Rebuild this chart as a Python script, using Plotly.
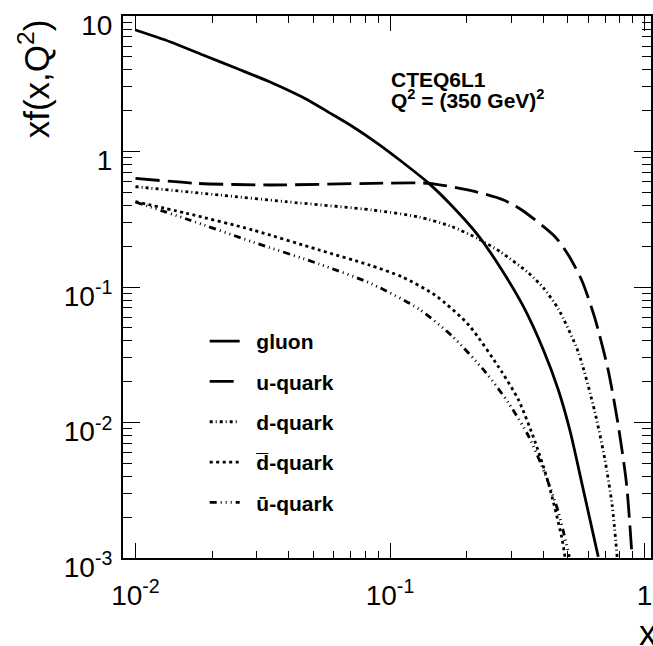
import plotly.graph_objects as go

# xf(x, Q^2) for CTEQ6L1 at Q = 350 GeV
gluon_x = [0.01, 0.01365, 0.01842, 0.0249, 0.0336, 0.0454, 0.0594, 0.0712, 0.0892, 0.1117,
           0.1421, 0.1753, 0.2230, 0.2751, 0.3345, 0.4006, 0.4585, 0.511, 0.5693, 0.658]
gluon_y = [7.88, 6.46, 5.154, 4.11, 3.274, 2.51, 1.875, 1.529, 1.149, 0.8366,
           0.582, 0.3962, 0.2378, 0.1335, 0.0716, 0.0343, 0.01738, 0.00851, 0.003457, 0.00102]

u_x = [0.01, 0.01736, 0.0336, 0.0852, 0.1421, 0.2165, 0.2794, 0.3295, 0.445, 0.502,
       0.566, 0.638, 0.7195, 0.788, 0.849, 0.8934]
u_y = [0.634, 0.582, 0.566, 0.582, 0.582, 0.505, 0.4385, 0.370, 0.235, 0.1722,
       0.1126, 0.0590, 0.0244, 0.00958, 0.00356, 0.00102]

d_x = [0.01, 0.0214, 0.0391, 0.0852, 0.1299, 0.1753, 0.2230, 0.272, 0.35, 0.4006,
       0.4585, 0.549, 0.638, 0.699, 0.746, 0.7806]
d_y = [0.5498, 0.4775, 0.426, 0.370, 0.3286, 0.2786, 0.2260, 0.1813, 0.1269, 0.0984,
       0.0688, 0.03314, 0.01196, 0.00529, 0.00246, 0.00102]

dbar_x = [0.01, 0.01586, 0.0289, 0.0527, 0.0828, 0.1117, 0.151, 0.2038, 0.2751, 0.3198,
          0.3718, 0.419, 0.4725, 0.487]
dbar_y = [0.426, 0.35, 0.2634, 0.1875, 0.1454, 0.1185, 0.0866, 0.0524, 0.02359, 0.01466,
          0.00718, 0.00358, 0.00143, 0.00102]

ubar_x = [0.01, 0.01586, 0.0289, 0.0527, 0.085, 0.1299, 0.1753, 0.2369, 0.2922, 0.35,
          0.4068, 0.4585, 0.5065]
ubar_y = [0.424, 0.3176, 0.2149, 0.1478, 0.1052, 0.0688, 0.0435, 0.02359, 0.01393, 0.00795,
          0.00417, 0.002185, 0.00102]

names = ["\u00a0\u00a0gluon", "\u00a0\u00a0u-quark", "\u00a0\u00a0d-quark",
         "\u00a0\u00a0d\u0305-quark", "\u00a0\u00a0\u016b-quark"]
dashes = ["solid", "24px,8px", "3px,3px,1px,3px", "3px,3.5px",
          "7px,4px,1px,4px,1px,4px,1px,4px"]

x_tickvals = [0.01, 0.1, 1]
x_ticktext = ["10<sup>-2</sup>", "10<sup>-1</sup>", "1"]
x_minor = [0.002, 0.003, 0.004, 0.005, 0.006, 0.007, 0.008, 0.009,
           0.02, 0.03, 0.04, 0.05, 0.06, 0.07, 0.08, 0.09,
           0.2, 0.3, 0.4, 0.5, 0.6, 0.7, 0.8, 0.9]
y_tickvals = [0.001, 0.01, 0.1, 1, 10]
y_ticktext = ["10<sup>-3</sup>", "10<sup>-2</sup>", "10<sup>-1</sup>", "1", "10"]
y_minor = [0.002, 0.003, 0.004, 0.005, 0.006, 0.007, 0.008, 0.009,
           0.02, 0.03, 0.04, 0.05, 0.06, 0.07, 0.08, 0.09,
           0.2, 0.3, 0.4, 0.5, 0.6, 0.7, 0.8, 0.9,
           2, 3, 4, 5, 6, 7, 8, 9]

FONT = "Liberation Sans, Arial, Helvetica, sans-serif"

series = [(gluon_x, gluon_y), (u_x, u_y), (d_x, d_y), (dbar_x, dbar_y), (ubar_x, ubar_y)]

fig = go.Figure()
for (xs, ys), name, dash in zip(series, names, dashes):
    fig.add_trace(go.Scatter(
        x=xs, y=ys, mode="lines", name=name, legendgroup=name,
        line=dict(color="black", width=2.8, dash=dash, shape="spline", smoothing=0.7),
        hoverinfo="skip",
    ))

W, H = 653, 646
L, R, T, B = 123, 0, 16, 88
pw, ph = W - L - R, H - T - B


def px(xp):
    return (xp - L) / pw


def py(yp):
    return (H - B - yp) / ph


axis_common = dict(
    type="log", showgrid=False, zeroline=False, showline=True, linewidth=2,
    linecolor="black", mirror="ticks", ticks="inside", tickwidth=1, tickcolor="black",
    tickmode="array", tickfont=dict(family=FONT, size=28, color="black"),
    ticklabeloverflow="allow",
)

fig.update_layout(
    width=W, height=H,
    margin=dict(l=L, r=R, t=T, b=B),
    plot_bgcolor="white", paper_bgcolor="white",
    showlegend=True,
    xaxis=dict(
        axis_common, range=[-2.049, 0.0254],
        tickvals=x_tickvals, ticktext=x_ticktext, ticklen=15,
        minor=dict(tickvals=x_minor, ticks="inside", ticklen=7, tickwidth=1,
                   tickcolor="black", showgrid=False),
        ticklabelstandoff=11,
    ),
    yaxis=dict(
        axis_common, range=[-3, 1],
        tickvals=y_tickvals, ticktext=y_ticktext, ticklen=17,
        minor=dict(tickvals=y_minor, ticks="inside", ticklen=9, tickwidth=1,
                   tickcolor="black", showgrid=False),
        ticklabelstandoff=3, ticklabelshift=9,
    ),
    legend=dict(
        x=px(205), y=py(321), xanchor="left", yanchor="top",
        bgcolor="rgba(0,0,0,0)", borderwidth=0, tracegroupgap=10,
        font=dict(family=FONT, size=21, color="black", weight="bold"),
    ),
    annotations=[
        dict(text="CTEQ6L1", x=px(390), y=py(79.3), xref="paper", yref="paper",
             xanchor="left", yanchor="middle", showarrow=False,
             font=dict(family=FONT, size=21, color="black", weight="bold")),
        dict(text="Q<sup>2</sup> = (350 GeV)<sup>2</sup>", x=px(390), y=py(99),
             xref="paper", yref="paper", xanchor="left", yanchor="middle",
             showarrow=False,
             font=dict(family=FONT, size=21, color="black", weight="bold")),
        dict(text="xf(x,Q<sup>2</sup>)", x=px(34), y=py(79), xref="paper", yref="paper",
             xanchor="center", yanchor="middle", textangle=-90, showarrow=False,
             font=dict(family=FONT, size=35, color="black")),
        dict(text="x", x=px(639), y=py(632), xref="paper", yref="paper",
             xanchor="left", yanchor="middle", showarrow=False,
             font=dict(family=FONT, size=35, color="black")),
    ],
)

fig.write_html("out.html")
